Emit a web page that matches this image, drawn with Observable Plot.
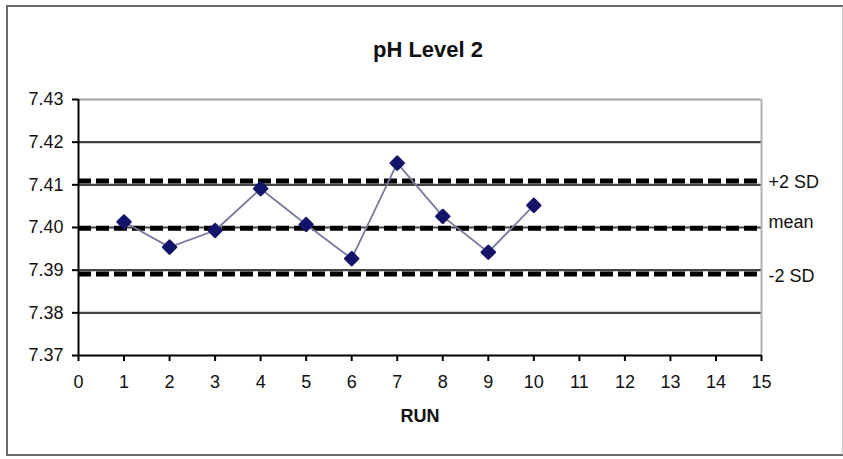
<!DOCTYPE html>
<html>
<head>
<meta charset="utf-8">
<script src="https://cdn.jsdelivr.net/npm/d3@7"></script>
<script src="https://cdn.jsdelivr.net/npm/@observablehq/plot@0.6"></script>
<style>
  html, body { margin: 0; padding: 0; background: #fff; }
  #wrap { position: relative; width: 843px; height: 459px; overflow: hidden; }
  #frame { position: absolute; left: 6px; top: 5px; width: 834px; height: 447px;
           border: 2px solid #6a6a6a; border-right-color: #c8c8c8; pointer-events: none; }
</style>
</head>
<body>
<div id="wrap"><div id="frame"></div></div>
<script>
// ---- data ----
const runs = [1, 2, 3, 4, 5, 6, 7, 8, 9, 10];
const ph = [7.4013, 7.3954, 7.3993, 7.4091, 7.4007, 7.3927, 7.4151, 7.4026, 7.3942, 7.4052];
const yTicks = [7.37, 7.38, 7.39, 7.40, 7.41, 7.42, 7.43];
const xTicks = [0, 1, 2, 3, 4, 5, 6, 7, 8, 9, 10, 11, 12, 13, 14, 15];
const limitNames = ["+2 SD", "mean", "-2 SD"];
const limitValues = [7.4109, 7.3998, 7.3891];
const titleText = "pH Level 2";
const xLabel = "RUN";

const points = runs.map((r, i) => ({run: r, ph: ph[i]}));
const limits = limitNames.map((n, i) => ({name: n, value: limitValues[i]}));
const labelDy = {"+2 SD": 1, "mean": -6, "-2 SD": 2};

const font = "'Liberation Sans', Arial, sans-serif";

const chart = Plot.plot({
  width: 843,
  height: 459,
  marginLeft: 78,
  marginRight: 82,
  marginTop: 99,
  marginBottom: 104,
  style: {fontFamily: font, fontSize: "18px", color: "#111", background: "transparent"},
  x: {domain: [0, 15]},
  y: {domain: [7.37, 7.43]},
  marks: [
    // gridlines
    Plot.ruleY(yTicks.filter(d => d > 7.375 && d < 7.425), {stroke: "#444", strokeWidth: 2.2}),
    Plot.ruleY([7.43], {stroke: "#a0a0a0", strokeWidth: 2}),
    // right border of plot area
    Plot.ruleX([15], {y1: 7.37, y2: 7.43, stroke: "#b0b0b0", strokeWidth: 2}),
    // control limits (dashed)
    Plot.ruleY(limits, {y: "value", stroke: "#000", strokeWidth: 5, strokeDasharray: "13,5"}),
    // axes
    Plot.axisY(yTicks, {label: null, tickFormat: d => d.toFixed(2), tickSize: 6, tickPadding: 9, fontSize: 18, stroke: "#000", strokeWidth: 2}),
    Plot.axisX(xTicks, {label: null, tickFormat: d => String(d), tickSize: 6, tickPadding: 14, fontSize: 18, stroke: "#000", strokeWidth: 2}),
    Plot.ruleX([0], {y1: 7.37, y2: 7.43, stroke: "#000", strokeWidth: 2}),
    Plot.ruleY([7.37], {stroke: "#000", strokeWidth: 2}),
    // data
    Plot.line(points, {x: "run", y: "ph", stroke: "#7a7a9e", strokeWidth: 1.8}),
    Plot.dot(points, {x: "run", y: "ph", symbol: "diamond2", r: 5.8, fill: "#14146a", stroke: "#14146a", strokeWidth: 2.5, strokeLinejoin: "round"}),
    // right-side labels
    Plot.text(limits, {x: () => 15, y: "value", text: "name", dx: 7, textAnchor: "start", fontSize: 18, fill: "#111"}),
    // title and x label
    Plot.text([titleText], {frameAnchor: "top", dy: -58, fontSize: 22, fontWeight: "bold", fill: "#111", dx: 8}),
    Plot.text([xLabel], {frameAnchor: "bottom", dy: 66, fontSize: 18, fontWeight: "bold", fill: "#111"})
  ]
});

// apply per-label vertical nudges
chart.querySelectorAll("g[aria-label='text'] text").forEach(t => {
  const k = t.textContent;
  if (k in labelDy) {
    const tr = t.getAttribute("transform") || "";
    t.setAttribute("transform", tr + ` translate(0,${labelDy[k]})`);
  }
});

document.getElementById("wrap").prepend(chart);
</script>
</body>
</html>
